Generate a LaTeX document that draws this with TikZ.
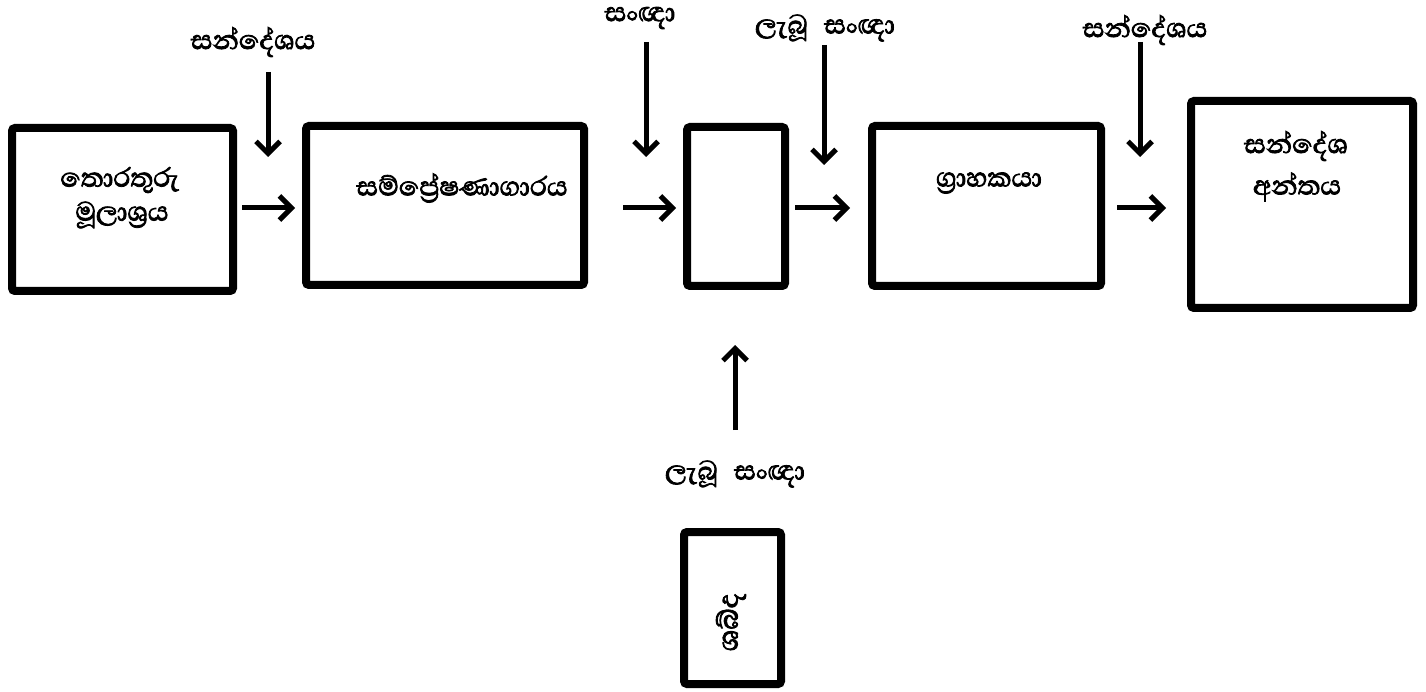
\documentclass[tikz,border=0pt]{standalone}
\usepackage{fontspec}
\newfontfamily\sinhalafont[Script=Sinhala, FakeBold=2.4]{Abhaya Libre}
\usetikzlibrary{arrows.meta}
\begin{document}
\begin{tikzpicture}[x=1pt,y=-1pt,
 box/.style={draw, line width=8pt, rounded corners=3pt, inner sep=0pt},
 lbl/.style={font=\sinhalafont\fontsize{34}{40}\selectfont, inner sep=0pt, align=center},
 arr/.style={line width=5pt, -{Straight Barb[length=12pt,width=24pt]}}]
\useasboundingbox[fill=white] (0,0) rectangle (1426,692);
% boxes
\node[box, minimum width=221pt, minimum height=163pt] (b1) at (122.5,209.5) {};
\node[box, minimum width=278pt, minimum height=159pt] (b2) at (445,205.5) {};
\node[box, minimum width=98pt, minimum height=159pt] (b3) at (736,206.5) {};
\node[box, minimum width=229pt, minimum height=160pt] (b4) at (986.5,206) {};
\node[box, minimum width=222pt, minimum height=207pt] (b5) at (1302,204.5) {};
\node[box, minimum width=97pt, minimum height=152pt] (b6) at (732.5,608) {};
% box texts
\node[lbl] (t1a) at (120,180) {තොරතුරු};
\node[lbl] (t1b) at (122,215) {මූලාශ්‍රය};
\node[lbl] (t2) at (462,188) {සම්ප්‍රේෂණාගාරය};
\node[lbl] (t4) at (989,183) {ග්‍රාහකයා};
\node[lbl] (t5a) at (1296,146) {සන්දේශ};
\node[lbl] (t5b) at (1297,187) {අන්තය};
\node[lbl, rotate=90, font=\sinhalafont\fontsize{36}{40}\selectfont] (t6) at (731,622) {ශබ්ද};
% top labels
\node[lbl] (l1) at (253,42) {සන්දේශය};
\node[lbl] (l2) at (640,18) {සංඥා};
\node[lbl] (l3) at (825,28) {ලැබූ\hspace{10pt} සංඥා};
\node[lbl] (l4) at (1145,30) {සන්දේශය};
\node[lbl] (l5) at (735,474) {ලැබූ\hspace{10pt} සංඥා};
% arrow end points
\coordinate (h1s) at (242,208); \coordinate (h1e) at (295,208);
\coordinate (h2s) at (623,208); \coordinate (h2e) at (676,208);
\coordinate (h3s) at (795,208); \coordinate (h3e) at (850,208);
\coordinate (h4s) at (1117,208); \coordinate (h4e) at (1166,208);
\coordinate (v1s) at (268,72); \coordinate (v1e) at (268,157);
\coordinate (v2s) at (646,42); \coordinate (v2e) at (646,157);
\coordinate (v3s) at (824,45); \coordinate (v3e) at (824,165);
\coordinate (v4s) at (1140,42); \coordinate (v4e) at (1140,157);
\coordinate (us) at (735,430); \coordinate (ue) at (735,345);
\foreach \a in {h1,h2,h3,h4,v1,v2,v3,v4,u} \draw[arr] (\a s) -- (\a e);
\end{tikzpicture}
\end{document}
